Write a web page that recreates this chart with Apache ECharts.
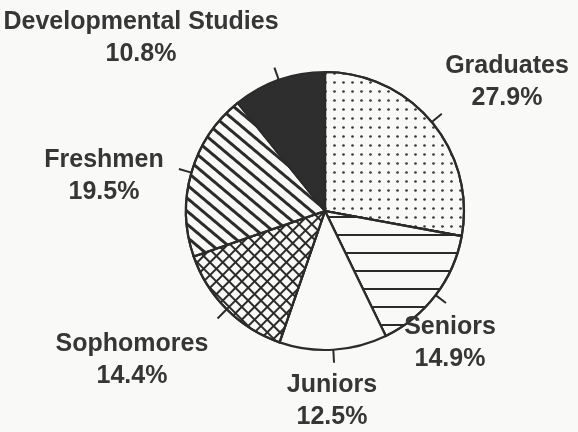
<!DOCTYPE html>
<html>
<head>
<meta charset="utf-8">
<script src="https://cdn.jsdelivr.net/npm/echarts@6/dist/echarts.min.js"></script>
<style>
html, body { margin: 0; padding: 0; background: #f9f9f7; }
#main { width: 578px; height: 432px; }
</style>
</head>
<body>
<div id="main"></div>
<script>
// categories, clockwise from 12 o'clock
var categories = ['Graduates', 'Seniors', 'Juniors', 'Sophomores', 'Freshmen', 'Developmental Studies'];
var shares = [27.9, 14.9, 12.5, 14.4, 19.5, 10.8];

// label block centres (px)
var labelPos = [[507, 82], [450, 343], [332, 401], [132, 360], [104, 176], [141, 38]];

var ink = '#2b2b2b';
var paper = '#f9f9f7';

// fill pattern for each slice
var fills = [
    { color: paper, decal: { symbol: 'circle', symbolSize: 0.9, symbolKeepAspect: false, color: '#3a3a3a', dashArrayX: [3, 6], dashArrayY: [3, 6] } },
    { color: paper, decal: { symbol: 'rect', symbolSize: 1, symbolKeepAspect: false, color: ink, dashArrayX: [8, 0], dashArrayY: [2, 16] } },
    { color: paper, decal: 'none' },
    { color: paper, decal: { symbol: 'rect', symbolSize: 1, symbolKeepAspect: false, color: ink, dashArrayX: [[9, 0], [2, 7]], dashArrayY: [2, 0, 7, 0], rotation: Math.PI / 4 } },
    { color: paper, decal: { symbol: 'rect', symbolSize: 1, symbolKeepAspect: false, color: ink, dashArrayX: [8, 0], dashArrayY: [3, 7], rotation: Math.PI * 40 / 180 } },
    { color: '#2e2e2e', decal: 'none' }
];

var pieData = categories.map(function (name, i) {
    var st = { color: fills[i].color };
    if (fills[i].decal !== 'none') st.decal = fills[i].decal;
    return { name: name, value: shares[i], itemStyle: st };
});

var labelData = categories.map(function (name, i) {
    return { name: name, value: shares[i] };
});

var myChart = echarts.init(document.getElementById('main'));

var option = {
    backgroundColor: paper,
    animation: false,
    series: [{
        type: 'pie',
        center: [325, 211],
        radius: 139,
        startAngle: 90,
        clockwise: true,
        avoidLabelOverlap: false,
        silent: true,
        itemStyle: { borderColor: ink, borderWidth: 2.2 },
        label: { show: true, formatter: ' ', fontSize: 1 },
        labelLine: { show: true, length: 13, length2: 0, smooth: false, lineStyle: { color: ink, width: 2 } },
        emphasis: { disabled: true },
        data: pieData
    }, {
        type: 'pie',
        center: [325, 211],
        radius: 139,
        startAngle: 90,
        clockwise: true,
        avoidLabelOverlap: false,
        silent: true,
        percentPrecision: 1,
        itemStyle: { color: 'transparent', borderWidth: 0 },
        label: {
            show: true,
            position: 'outside',
            formatter: '{b}\n{d}%',
            fontFamily: 'Liberation Sans, Arial, sans-serif',
            fontWeight: 'bold',
            fontSize: 25,
            lineHeight: 32,
            color: '#363636',
            align: 'center'
        },
        labelLine: { show: false },
        labelLayout: function (params) {
            var p = labelPos[params.dataIndex];
            return { x: p[0], y: p[1], align: 'center', verticalAlign: 'middle' };
        },
        emphasis: { disabled: true },
        data: labelData
    }]
};

myChart.setOption(option);
</script>
</body>
</html>
